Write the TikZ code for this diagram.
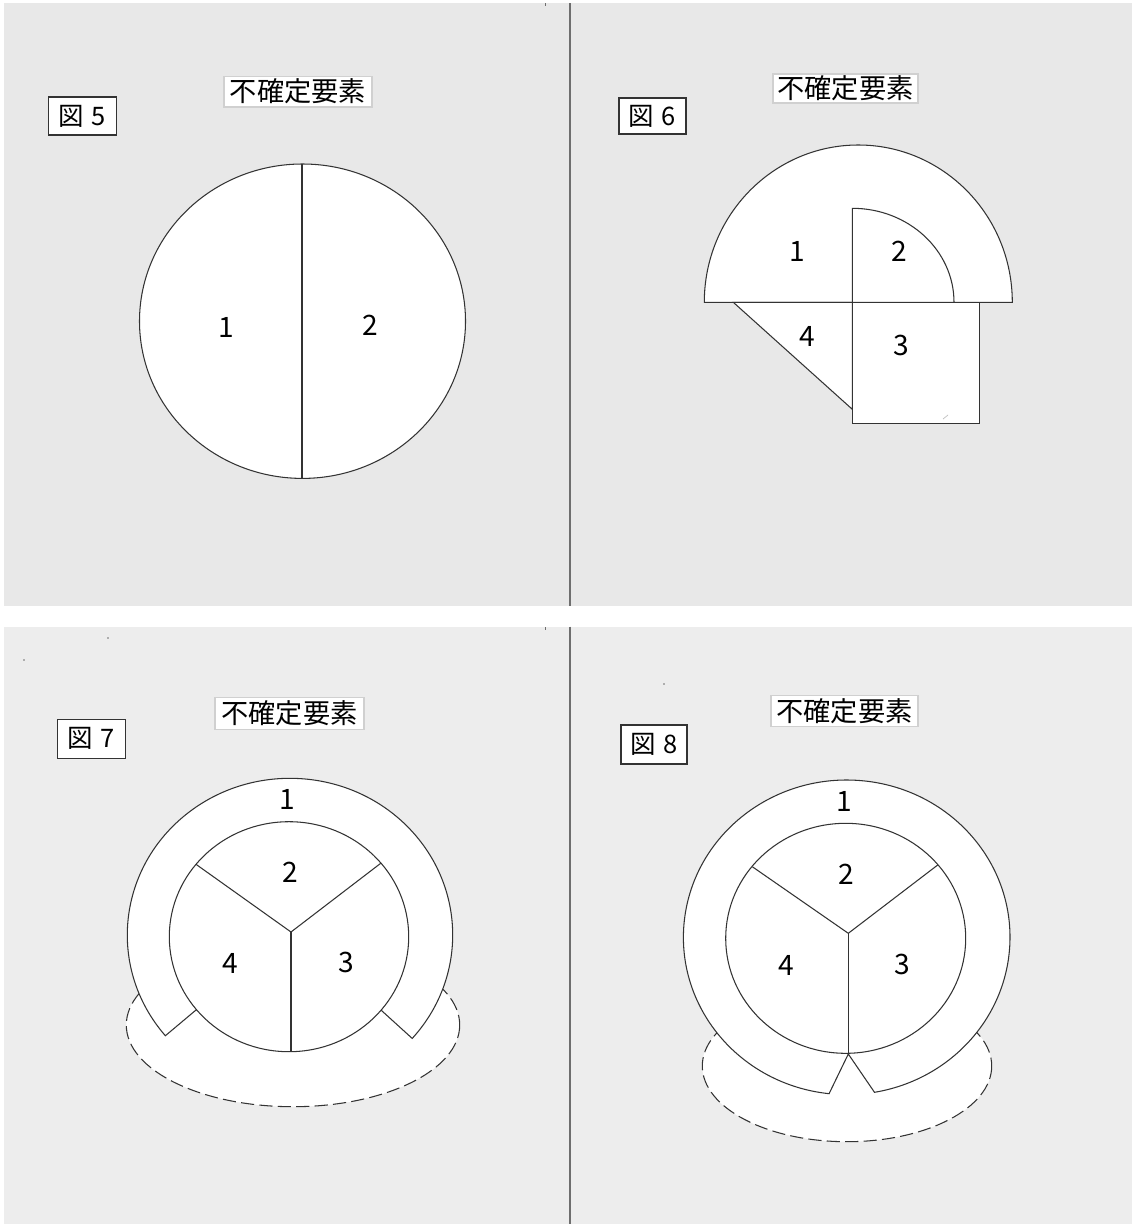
\documentclass[tikz,border=0pt]{standalone}
\usepackage{fontspec}
\setmainfont{Noto Sans CJK JP}
\usetikzlibrary{calc}
\definecolor{bgA}{HTML}{E8E8E8}
\definecolor{bgB}{HTML}{EDEDED}
\definecolor{ln}{HTML}{333333}
\definecolor{tb}{HTML}{D0D0D0}
\definecolor{dv}{HTML}{6E6E6E}
\begin{document}
\begin{tikzpicture}[x=0.02cm,y=-0.02cm,
  shp/.style={fill=white,draw=ln,line width=0.6pt},
  edge/.style={draw=ln,line width=0.6pt},
  ttl/.style={draw=tb,fill=white,line width=0.8pt,minimum width=2.96cm,minimum height=0.61cm,inner sep=0pt,font=\fontsize{15.5}{18}\selectfont},
  lbl/.style={draw=ln,fill=white,line width=0.7pt,minimum width=1.35cm,minimum height=0.76cm,inner sep=0pt,font=\fontsize{14.5}{17}\selectfont},
  num/.style={inner sep=0pt,font=\fontsize{16}{19}\selectfont},
  dsh/.style={fill=white,draw=ln,line width=0.6pt,dash pattern=on 7.5pt off 3pt},
  divider/.style={draw=dv,line width=1.1pt},
  speck/.style={fill=dv}]
\useasboundingbox (0,0) rectangle (1132,1224);
\fill[white] (0,0) rectangle (1132,1224);
% panels
\fill[bgA] (4,3) rectangle (1132,605.7);
\fill[bgB] (4,626.7) rectangle (1132,1224);
\draw[divider] (570,3) -- (570,605.7);
\draw[divider] (570,626.7) -- (570,1224);
\draw[dv,line width=0.5pt] (545,3) -- (545,6);
\draw[dv,line width=0.5pt] (545,627) -- (545,630);
\fill[speck] (108,638) circle [radius=0.8];
\fill[speck] (24,660) circle [radius=0.8];
\fill[speck] (664,684) circle [radius=0.9];

% ---------- Figure 5 ----------
\node[ttl] (t5) at (298,91.7) {不確定要素};
\node[lbl] (f5) at (82.5,116) {図\hspace{0.3em}5};
\filldraw[shp] (302.5,321.2) ellipse [x radius=163, y radius=157.2];
\draw[edge] (302,164) -- (302,478.4);
\node[num] (a5) at (226,327.5) {1};
\node[num] (b5) at (370.7,325.7) {2};

% ---------- Figure 6 ----------
\node[ttl,minimum width=2.9cm,minimum height=0.58cm] (t6) at (845.5,88.5) {不確定要素};
\node[lbl,minimum width=1.34cm,minimum height=0.72cm] (f6) at (652.5,116) {図\hspace{0.3em}6};
\filldraw[shp] (704.3,302.3) arc[start angle=180,end angle=360,x radius=154,y radius=157.3] -- cycle;
\filldraw[shp] (733.3,302.3) -- (852.3,302.3) -- (852.3,409.3) -- cycle;
\filldraw[shp] (852.3,302.3) rectangle (979.3,423.3);
\draw[edge] (852.3,302.3) -- (852.3,208.3) arc[start angle=270,end angle=360,x radius=101.7,y radius=94];
\draw[black!25,line width=0.4pt] (943,419) -- (948,415);
\node[num] (a6) at (797.7,251.7) {1};
\node[num] (b6) at (899,251.7) {2};
\node[num] (c6) at (901,345) {3};
\node[num] (d6) at (807.3,336.7) {4};

% ---------- Figure 7 ----------
\node[ttl,minimum width=2.98cm,minimum height=0.64cm] (t7) at (289.5,713.3) {不確定要素};
\node[lbl,minimum width=1.37cm,minimum height=0.78cm] (f7) at (91.5,738.8) {図\hspace{0.3em}7};
\coordinate (o7) at (290,935);
\coordinate (i7) at (289,936.7);
\coordinate (h7) at (291,932);
\filldraw[dsh] (293,1025) ellipse [x radius=166.7, y radius=81.7];
\filldraw[shp] ($(o7)+(140:162.7 and 156.7)$) arc[start angle=140,end angle=401.3,x radius=162.7,y radius=156.7] -- (381.7,1010.7) -- (196,1010) -- cycle;
\filldraw[shp] (i7) ellipse [x radius=119.7, y radius=115];
\draw[edge] (h7) -- (196,864.3);
\draw[edge] (h7) -- (380.7,863.3);
\draw[edge] (h7) -- (291,1051.7);
\node[num] (a7) at (287.7,799.3) {1};
\node[num] (b7) at (290,872.7) {2};
\node[num] (c7) at (346,962.7) {3};
\node[num] (d7) at (230,963.3) {4};

% ---------- Figure 8 ----------
\node[ttl,minimum width=2.94cm,minimum height=0.62cm] (t8) at (844.5,711) {不確定要素};
\node[lbl,minimum width=1.32cm,minimum height=0.78cm] (f8) at (654,744.5) {図\hspace{0.3em}8};
\coordinate (o8) at (846.7,937.3);
\coordinate (i8) at (845.7,938.3);
\coordinate (h8) at (848.3,933.3);
\filldraw[dsh] (847,1066) ellipse [x radius=144.7, y radius=75.7];
\filldraw[shp] ($(o8)+(96.2:163.3 and 157.3)$) arc[start angle=96.2,end angle=440.2,x radius=163.3,y radius=157.3] -- (848.3,1054) -- cycle;
\filldraw[shp] (i8) ellipse [x radius=120, y radius=115];
\draw[edge] (h8) -- (752.3,866.7);
\draw[edge] (h8) -- (937.7,865);
\draw[edge] (h8) -- (848.3,1053.5);
\node[num] (a8) at (844.3,801.7) {1};
\node[num] (b8) at (846.7,874.3) {2};
\node[num] (c8) at (902.3,964.3) {3};
\node[num] (d8) at (786.7,965) {4};
\end{tikzpicture}
\end{document}
